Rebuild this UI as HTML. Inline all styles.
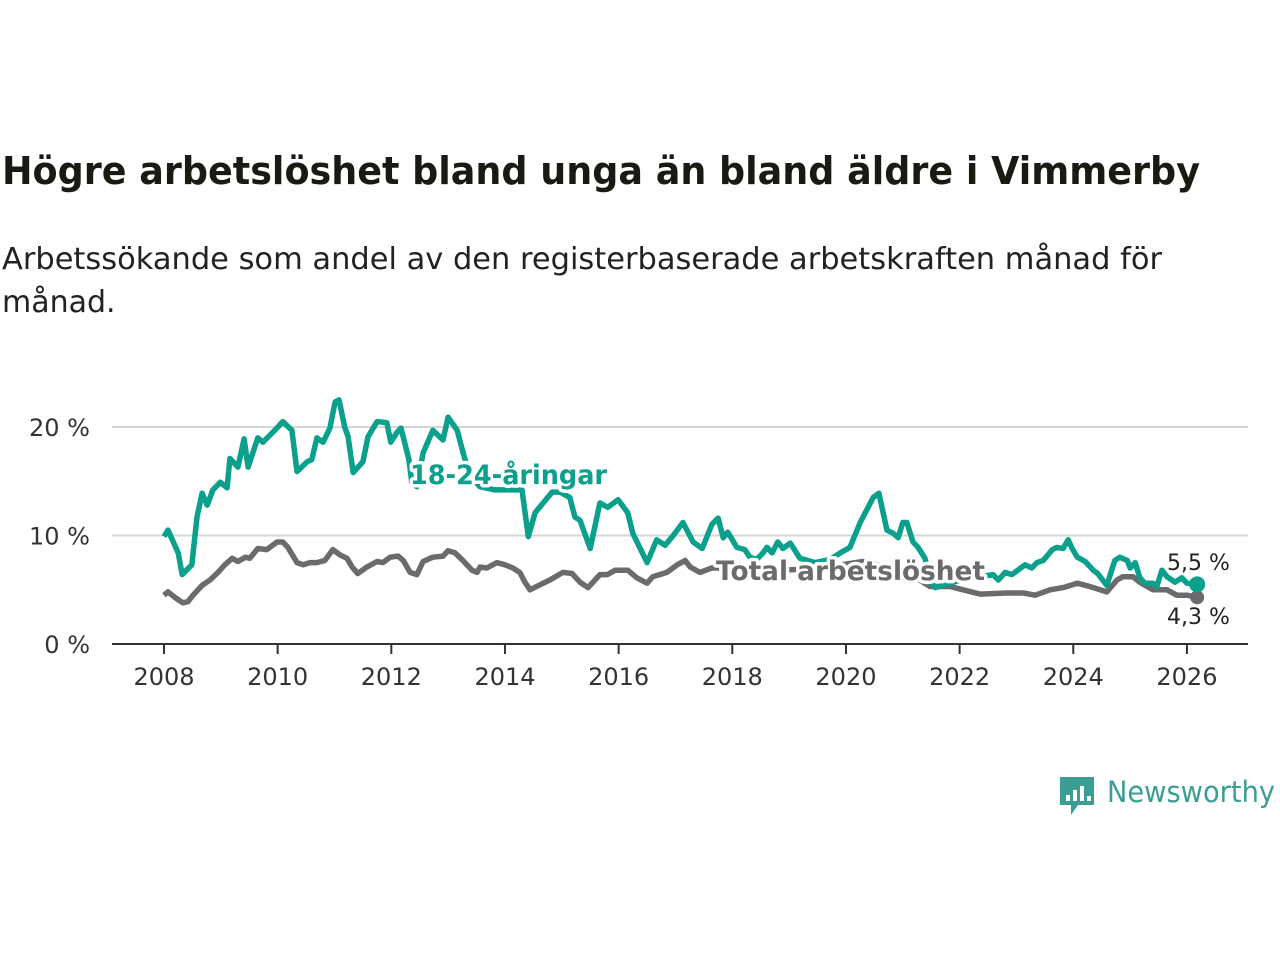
<!DOCTYPE html>
<html><head><meta charset="utf-8"><style>
body{margin:0;background:#fff;width:1280px;height:960px;overflow:hidden;font-family:"Liberation Sans","DejaVu Sans",sans-serif}
</style></head><body>
<svg width="1280" height="960" viewBox="0 0 1280 960" id="svg">
<text x="2" y="184" font-size="38" font-weight="bold" fill="#1a1a14" font-family="DejaVu Sans, sans-serif" textLength="1198" lengthAdjust="spacingAndGlyphs">Högre arbetslöshet bland unga än bland äldre i Vimmerby</text>
<text font-size="30" fill="#222" font-family="DejaVu Sans, sans-serif"><tspan x="2" y="269" textLength="1160" lengthAdjust="spacingAndGlyphs">Arbetssökande som andel av den registerbaserade arbetskraften månad för</tspan><tspan x="2" y="312">månad.</tspan></text>
<g id="grid"></g><g id="xaxis"></g><g id="lines"></g>
<g>
<path d="M1060 777h34v28h-16l-7 10v-10h-11z" fill="#3a9e92"/>
<rect x="1066" y="795" width="4" height="6" fill="#fff"/><rect x="1073" y="790" width="4" height="11" fill="#fff"/><rect x="1080" y="786" width="4" height="15" fill="#fff"/><rect x="1087" y="796" width="4" height="5" fill="#fff"/>
<text x="1107" y="802" font-size="29" fill="#3a9e92" font-family="DejaVu Sans, sans-serif" textLength="168" lengthAdjust="spacingAndGlyphs">Newsworthy</text>
</g>
</svg>
<script>
const youthYears=[2008.0,2008.07,2008.25,2008.32,2008.49,2008.58,2008.67,2008.76,2008.86,2008.99,2009.11,2009.16,2009.30,2009.41,2009.48,2009.65,2009.74,2009.95,2010.09,2010.25,2010.34,2010.52,2010.60,2010.69,2010.80,2010.92,2011.01,2011.08,2011.18,2011.24,2011.33,2011.50,2011.59,2011.75,2011.92,2011.99,2012.10,2012.17,2012.31,2012.36,2012.45,2012.56,2012.73,2012.91,2013.00,2013.16,2013.26,2013.38,2013.56,2013.82,2014.04,2014.30,2014.41,2014.53,2014.83,2014.97,2015.14,2015.23,2015.32,2015.50,2015.67,2015.81,2015.99,2016.16,2016.25,2016.50,2016.67,2016.82,2016.96,2017.13,2017.31,2017.47,2017.64,2017.75,2017.84,2017.92,2018.08,2018.22,2018.31,2018.43,2018.54,2018.61,2018.70,2018.80,2018.89,2019.02,2019.19,2019.46,2019.72,2019.90,2020.07,2020.25,2020.34,2020.48,2020.58,2020.72,2020.83,2020.92,2021.00,2021.07,2021.18,2021.27,2021.39,2021.48,2021.57,2021.83,2022.09,2022.36,2022.59,2022.68,2022.80,2022.92,2023.15,2023.27,2023.36,2023.47,2023.63,2023.71,2023.82,2023.91,2023.98,2024.07,2024.21,2024.35,2024.43,2024.59,2024.73,2024.82,2024.95,2025.00,2025.09,2025.17,2025.26,2025.40,2025.47,2025.56,2025.65,2025.79,2025.91,2026.00,2026.18];
const youthValues=[9.9,10.5,8.4,6.4,7.3,11.7,13.9,12.8,14.2,14.9,14.4,17.1,16.3,18.9,16.3,19.0,18.6,19.7,20.5,19.7,15.9,16.8,17.0,19.0,18.6,19.9,22.3,22.5,20.0,19.1,15.8,16.8,19.1,20.5,20.4,18.6,19.5,19.9,17.0,14.9,14.5,17.6,19.7,18.8,20.9,19.7,17.7,15.5,14.5,14.2,14.2,14.2,9.9,12.1,14.0,14.0,13.5,11.7,11.4,8.8,13.0,12.6,13.3,12.1,10.2,7.5,9.6,9.1,10.0,11.2,9.4,8.8,11.0,11.6,9.8,10.3,8.9,8.7,8.0,7.8,8.4,8.9,8.4,9.4,8.8,9.3,7.9,7.5,7.8,8.4,8.9,11.2,12.1,13.5,13.9,10.5,10.2,9.8,11.2,11.2,9.4,8.9,7.9,5.8,5.2,5.6,6.0,6.2,6.4,5.9,6.6,6.4,7.3,7.0,7.5,7.7,8.7,8.9,8.8,9.6,8.8,8.0,7.6,6.8,6.5,5.4,7.7,8.0,7.7,7.0,7.5,6.1,5.6,5.6,5.3,6.8,6.2,5.7,6.1,5.6,5.5];
const totalYears=[2008.0,2008.07,2008.19,2008.33,2008.42,2008.51,2008.67,2008.81,2008.95,2009.07,2009.20,2009.30,2009.43,2009.51,2009.65,2009.81,2009.99,2010.09,2010.18,2010.34,2010.45,2010.57,2010.69,2010.83,2010.97,2011.10,2011.22,2011.31,2011.41,2011.57,2011.75,2011.85,2011.98,2012.12,2012.21,2012.33,2012.45,2012.56,2012.73,2012.91,2013.00,2013.12,2013.26,2013.42,2013.51,2013.56,2013.68,2013.86,2014.00,2014.14,2014.26,2014.35,2014.44,2014.67,2014.79,2015.02,2015.18,2015.32,2015.46,2015.67,2015.80,2015.94,2016.16,2016.32,2016.50,2016.60,2016.85,2017.03,2017.17,2017.26,2017.43,2017.64,2018.2,2018.8,2019.3,2019.8,2020.3,2020.8,2021.2,2021.48,2021.83,2022.06,2022.36,2022.83,2023.12,2023.33,2023.59,2023.82,2024.07,2024.29,2024.59,2024.77,2024.87,2025.05,2025.17,2025.40,2025.65,2025.82,2026.00,2026.18];
const totalValues=[4.5,4.8,4.3,3.8,3.9,4.5,5.4,5.9,6.6,7.3,7.9,7.6,8.0,7.9,8.8,8.7,9.4,9.4,8.9,7.5,7.3,7.5,7.5,7.7,8.7,8.2,7.9,7.1,6.5,7.1,7.6,7.5,8.0,8.1,7.7,6.6,6.4,7.6,8.0,8.1,8.6,8.4,7.7,6.8,6.6,7.1,7.0,7.5,7.3,7.0,6.6,5.7,5.0,5.6,5.9,6.6,6.5,5.7,5.2,6.4,6.4,6.8,6.8,6.1,5.6,6.2,6.6,7.3,7.7,7.1,6.6,7.0,7.0,6.8,6.9,7.2,7.6,7.0,6.2,5.3,5.3,5.0,4.6,4.7,4.7,4.5,5.0,5.2,5.6,5.3,4.8,5.9,6.2,6.2,5.7,5.0,5.0,4.5,4.5,4.3];
const yTicks=[0,10,20];
const yTickLabels=["0 %","10 %","20 %"];
const xTicks=[2008,2010,2012,2014,2016,2018,2020,2022,2024,2026];
const NS='http://www.w3.org/2000/svg';
const X=v=>164+(v-2008)*56.83;
const Y=v=>644-v*10.85;
function mk(tag,attrs,parent,txt){const e=document.createElementNS(NS,tag);for(const k in attrs)e.setAttribute(k,attrs[k]);if(txt!=null)e.textContent=txt;parent.appendChild(e);return e;}
const grid=document.getElementById('grid'),xa=document.getElementById('xaxis'),lines=document.getElementById('lines');
yTicks.forEach((t,i)=>{
  if(t>0){const g=mk('line',{x1:112,x2:1248,y1:Y(t),y2:Y(t),stroke:'#d6d6d6','stroke-width':2},grid);
  
  }
  const l=mk('text',{x:90,y:Y(t)+9,'text-anchor':'end','font-size':24,fill:'#333','font-family':'DejaVu Sans, sans-serif'},grid,yTickLabels[i]);
  
  
});
const ax=mk('line',{x1:112,x2:1248,y1:644,y2:644,stroke:'#333','stroke-width':2},xa);


xTicks.forEach(t=>{
  mk('line',{x1:X(t),x2:X(t),y1:644,y2:654,stroke:'#333','stroke-width':2},xa);
  const l=mk('text',{x:X(t),y:685,'text-anchor':'middle','font-size':24,fill:'#333','font-family':'DejaVu Sans, sans-serif'},xa,String(t));
  
  
});
function path(xs,vs){return xs.map((x,i)=>(i?'L':'M')+X(x).toFixed(1)+' '+Y(vs[i]).toFixed(1)).join('');}
const tp=mk('path',{d:path(totalYears,totalValues),fill:'none',stroke:'#6b6b6e','stroke-width':5.5,'stroke-linejoin':'round'},lines);


const yp=mk('path',{d:path(youthYears,youthValues),fill:'none',stroke:'#0aa08c','stroke-width':5.5,'stroke-linejoin':'round'},lines);


const tl=totalYears.length-1,yl=youthYears.length-1;
const td=mk('circle',{cx:X(totalYears[tl]),cy:Y(totalValues[tl]),r:7,fill:'#6b6b6e'},lines);


const yd=mk('circle',{cx:X(youthYears[yl]),cy:Y(youthValues[yl]),r:8,fill:'#0aa08c'},lines);


const halo={stroke:'#fff','stroke-width':7,'paint-order':'stroke','stroke-linejoin':'round','font-weight':'bold','font-size':27,'font-family':'DejaVu Sans, sans-serif',lengthAdjust:'spacingAndGlyphs'};
const l1=mk('text',Object.assign({x:410,y:484,fill:'#0aa08c',textLength:197},halo),lines,'18-24-åringar');


const l2=mk('text',Object.assign({x:716,y:580,fill:'#6b6b6e',textLength:269},halo),lines,'Total arbetslöshet');


const e1=mk('text',{x:1167,y:570,'font-size':22,fill:'#222','font-family':'DejaVu Sans, sans-serif'},lines,'5,5 %');


const e2=mk('text',{x:1167,y:624,'font-size':22,fill:'#222','font-family':'DejaVu Sans, sans-serif'},lines,'4,3 %');


</script>
</body></html>
